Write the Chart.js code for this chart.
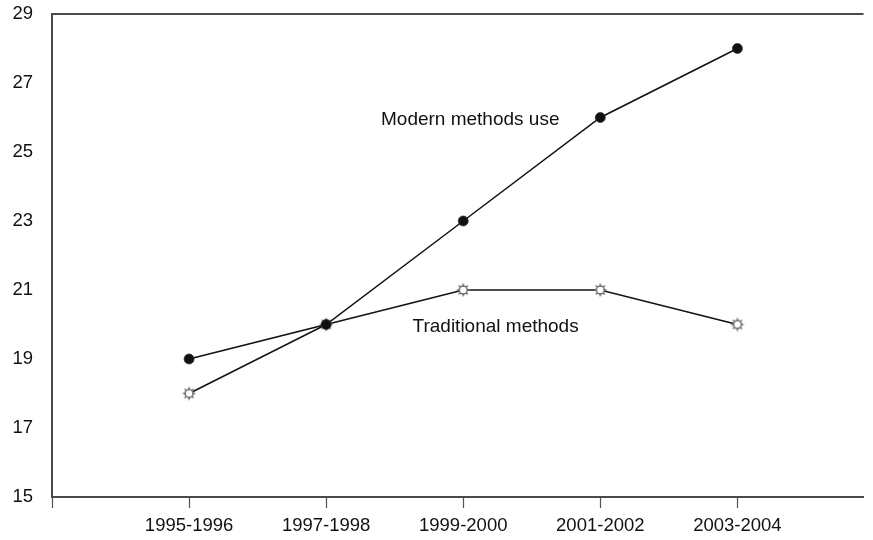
<!DOCTYPE html>
<html>
<head>
<meta charset="utf-8">
<script src="https://cdn.jsdelivr.net/npm/chart.js@4.4.1/dist/chart.umd.min.js"></script>
<style>
  html, body { margin: 0; padding: 0; background: #fff; }
  #wrap { width: 873px; height: 540px; position: relative; }
</style>
</head>
<body>
<div id="wrap"><canvas id="c" width="873" height="540"></canvas></div>
<script>
// ---- data ----
const categories = ["1995-1996", "1997-1998", "1999-2000", "2001-2002", "2003-2004"];
const modernValues = [19, 20, 23, 26, 28];
const traditionalValues = [18, 20, 21, 21, 20];
const yTicks = [15, 17, 19, 21, 23, 25, 27, 29];
const modernLabel = "Modern methods use";
const traditionalLabel = "Traditional methods";

const FONT = '"Liberation Sans", Arial, Helvetica, sans-serif';

// sun-shaped marker for traditional series
function makeSun() {
  const s = 16, c = s / 2;
  const cv = document.createElement('canvas');
  cv.width = s; cv.height = s;
  const g = cv.getContext('2d');
  g.fillStyle = '#777';
  for (let i = 0; i < 8; i++) {
    const a = i * Math.PI / 4;
    const w = 0.42;
    g.beginPath();
    g.moveTo(c + Math.cos(a) * 7.2, c + Math.sin(a) * 7.2);
    g.lineTo(c + Math.cos(a + w) * 3.9, c + Math.sin(a + w) * 3.9);
    g.lineTo(c + Math.cos(a - w) * 3.9, c + Math.sin(a - w) * 3.9);
    g.closePath();
    g.fill();
  }
  g.beginPath();
  g.arc(c, c, 3.9, 0, Math.PI * 2);
  g.fillStyle = '#ffffff';
  g.fill();
  g.lineWidth = 1.4;
  g.strokeStyle = '#6a6a6a';
  g.stroke();
  return cv;
}
const sun = makeSun();

const xs = categories.map((_, i) => i + 1);
const modernData = modernValues.map((v, i) => ({ x: xs[i], y: v }));
const tradData = traditionalValues.map((v, i) => ({ x: xs[i], y: v }));

const frame = {
  id: 'frame',
  afterDraw(chart) {
    const { ctx, chartArea, scales } = chart;
    ctx.save();
    // top border
    ctx.strokeStyle = '#4a4a4a';
    ctx.lineWidth = 2;
    ctx.beginPath();
    ctx.moveTo(chartArea.left - 1, chartArea.top);
    ctx.lineTo(chartArea.right, chartArea.top);
    ctx.stroke();
    // annotations
    ctx.fillStyle = '#111';
    ctx.font = '19px ' + FONT;
    ctx.textBaseline = 'middle';
    ctx.textAlign = 'left';
    ctx.fillText(modernLabel, scales.x.getPixelForValue(2.4), scales.y.getPixelForValue(25.94));
    ctx.fillText(traditionalLabel, scales.x.getPixelForValue(2.63), scales.y.getPixelForValue(19.93));
    ctx.restore();
  }
};

new Chart(document.getElementById('c'), {
  type: 'line',
  data: {
    datasets: [
      {
        label: modernLabel,
        data: modernData,
        borderColor: '#111',
        borderWidth: 1.5,
        pointStyle: 'circle',
        pointRadius: 5,
        pointBackgroundColor: '#111',
        pointBorderColor: '#333',
        pointBorderWidth: 0.8,
        tension: 0
      },
      {
        label: traditionalLabel,
        data: tradData,
        borderColor: '#111',
        borderWidth: 1.5,
        pointStyle: sun,
        pointRadius: 8,
        tension: 0
      }
    ]
  },
  options: {
    responsive: false,
    animation: false,
    events: [],
    layout: { padding: { top: 14, right: 0, left: 0, bottom: 0 } },
    plugins: { legend: { display: false }, tooltip: { enabled: false } },
    scales: {
      x: {
        type: 'linear',
        min: 0,
        max: 5.92,
        afterBuildTicks(scale) { scale.ticks = [0, ...xs].map(v => ({ value: v })); },
        afterFit(scale) {
          scale.height = 43;
          scale.paddingLeft = 0; scale.paddingRight = 0;
          scale.paddingTop = 0; scale.paddingBottom = 0;
        },
        ticks: {
          autoSkip: false,
          maxRotation: 0,
          padding: 7,
          color: '#111',
          font: { family: FONT, size: 18.5 },
          callback: (v) => (v >= 1 && v <= categories.length && Number.isInteger(v)) ? categories[v - 1] : ''
        },
        grid: { drawOnChartArea: false, drawTicks: true, tickLength: 11, tickColor: '#555', tickWidth: 1.2 },
        border: { display: true, color: '#4a4a4a', width: 2 }
      },
      y: {
        type: 'linear',
        min: 15,
        max: 29,
        afterBuildTicks(scale) { scale.ticks = yTicks.map(v => ({ value: v })); },
        afterFit(scale) {
          scale.width = 52;
          scale.paddingLeft = 0; scale.paddingRight = 0;
          scale.paddingTop = 0; scale.paddingBottom = 0;
        },
        ticks: {
          padding: 0,
          color: '#111',
          font: { family: FONT, size: 18.5 }
        },
        grid: { drawOnChartArea: false, drawTicks: true, tickLength: 19, tickColor: 'rgba(0,0,0,0)' },
        border: { display: true, color: '#4a4a4a', width: 2 }
      }
    }
  },
  plugins: [frame]
});
</script>
</body>
</html>
